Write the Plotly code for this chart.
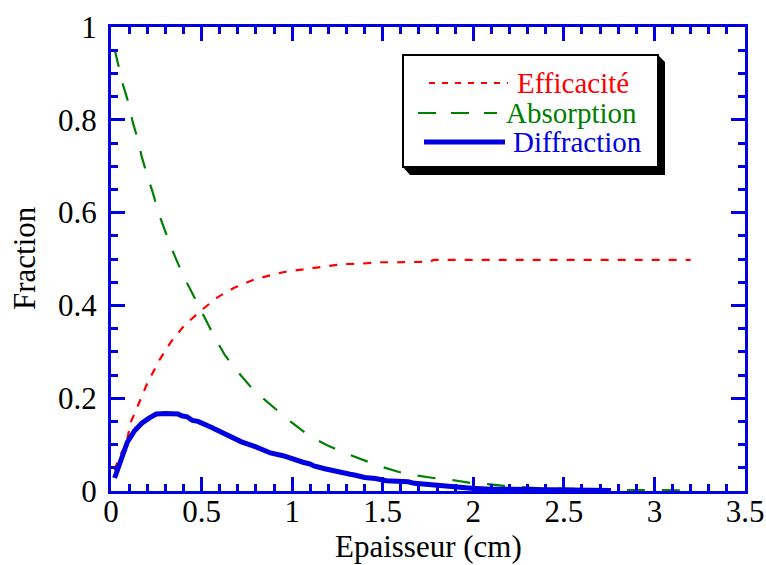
import plotly.graph_objects as go

# Efficacité (red, short dashes)
eff_x = [0.02, 0.044, 0.083, 0.11, 0.166, 0.20, 0.267, 0.33, 0.405, 0.497, 0.59, 0.68,
         0.80, 0.88, 0.955, 1.09, 1.18, 1.28, 1.38, 1.48, 1.58, 1.67, 1.76, 1.78, 1.86,
         2.5, 3.2]
eff_y = [0.045, 0.073, 0.10, 0.149, 0.20, 0.232, 0.282, 0.321, 0.357, 0.389, 0.418, 0.438,
         0.457, 0.465, 0.472, 0.479, 0.484, 0.489, 0.490, 0.493, 0.493, 0.494, 0.494, 0.498,
         0.498, 0.498, 0.498]

# Absorption (green, long dashes)
abs_x = [0.02, 0.044, 0.065, 0.10, 0.12, 0.15, 0.17, 0.20, 0.23, 0.26, 0.295, 0.33, 0.37,
         0.42, 0.47, 0.52, 0.57, 0.63, 0.70, 0.79, 0.89, 0.99, 1.09, 1.19, 1.29, 1.39,
         1.48, 1.59, 1.68, 1.78, 1.88, 1.99, 2.08, 2.17, 2.28, 2.39, 2.5, 2.6, 2.8, 3.0, 3.2]
abs_y = [0.952, 0.914, 0.877, 0.832, 0.795, 0.755, 0.72, 0.68, 0.644, 0.602, 0.562, 0.527,
         0.49, 0.448, 0.41, 0.37, 0.333, 0.292, 0.257, 0.216, 0.183, 0.150, 0.120, 0.099,
         0.082, 0.067, 0.054, 0.041, 0.034, 0.028, 0.024, 0.017, 0.015, 0.011, 0.008, 0.005,
         0.005, 0.004, 0.002, 0.002, 0.001]

# Diffraction (blue, thick solid, slightly stepped)
dif_x = [0.02, 0.05, 0.09, 0.13, 0.15, 0.17, 0.21, 0.25, 0.30, 0.37, 0.39, 0.42, 0.45,
         0.48, 0.55, 0.62, 0.70, 0.72, 0.80, 0.86, 0.88, 0.95, 1.00, 1.02, 1.06, 1.10,
         1.12, 1.18, 1.21, 1.26, 1.32, 1.35, 1.40, 1.46, 1.49, 1.52, 1.58, 1.64, 1.675,
         1.767, 1.86, 1.95, 1.99, 2.10, 2.19, 2.21, 2.5, 2.76]
dif_y = [0.028, 0.06, 0.105, 0.13, 0.140, 0.146, 0.157, 0.166, 0.167, 0.166, 0.162, 0.160,
         0.152, 0.150, 0.138, 0.124, 0.110, 0.106, 0.095, 0.085, 0.082, 0.076, 0.069, 0.065,
         0.062, 0.058, 0.054, 0.048, 0.045, 0.041, 0.036, 0.034, 0.029, 0.027, 0.024, 0.022,
         0.021, 0.020, 0.0165, 0.013, 0.010, 0.008, 0.0057, 0.004, 0.0036, 0.001, 0.001,
         0.001]

x_ticks = [0, 0.5, 1, 1.5, 2, 2.5, 3, 3.5]
x_labels = ["0", "0.5", "1", "1.5", "2", "2.5", "3", "3.5"]
y_ticks = [0, 0.2, 0.4, 0.6, 0.8, 1]
y_labels = ["0", "0.2", "0.4", "0.6", "0.8", "1"]

names = ["Efficacité", "Absorption", "Diffraction"]
colors = ["#ff0000", "#008000", "#0000e0"]

W, H = 766, 565
L, R, T, B = 111, 21, 27, 74
PW, PH = W - L - R, H - T - B
FONT = "Liberation Serif"
AXC = "#0000e0"


def px(x):
    return (x - L) / PW


def py(y):
    return (H - B - y) / PH


fig = go.Figure()
fig.add_trace(go.Scatter(x=eff_x, y=eff_y, mode="lines", name=names[0],
                         line=dict(color=colors[0], width=2.2, dash="8px,9px")))
fig.add_trace(go.Scatter(x=abs_x, y=abs_y, mode="lines", name=names[1],
                         line=dict(color=colors[1], width=2.2, dash="18px,17px")))
fig.add_trace(go.Scatter(x=dif_x, y=dif_y, mode="lines", name=names[2],
                         line=dict(color=colors[2], width=5)))

axis_common = dict(
    showline=True, linecolor=AXC, linewidth=3, mirror="allticks",
    ticks="inside", ticklen=14, tickwidth=2.5, tickcolor=AXC,
    showgrid=False, zeroline=False, automargin=False,
    tickfont=dict(family=FONT, size=31, color="black"),
)

fig.update_xaxes(range=[0, 3.5], tickvals=x_ticks, ticktext=x_labels,
                 minor=dict(dtick=0.1, ticks="inside", ticklen=7, tickwidth=2.5,
                            tickcolor=AXC, showgrid=False),
                 ticklabelstandoff=-9, **axis_common)
fig.update_yaxes(range=[0, 1], tickvals=y_ticks, ticktext=y_labels,
                 minor=dict(dtick=0.05, ticks="inside", ticklen=7, tickwidth=2.5,
                            tickcolor=AXC, showgrid=False),
                 ticklabelstandoff=5, **axis_common)

# Axis titles placed as text at fixed pixel positions
annotations = [
    dict(xref="paper", yref="paper", x=px(428), y=py(546), xanchor="center",
         yanchor="middle", showarrow=False, text="Epaisseur (cm)", borderpad=0,
         font=dict(family=FONT, size=31, color="black")),
    dict(xref="paper", yref="paper", x=px(24), y=py(258), xanchor="center",
         yanchor="middle", showarrow=False, text="Fraction", textangle=-90, borderpad=0,
         font=dict(family=FONT, size=31, color="black")),
]

# Legend box with drop shadow
bx0, by0, bx1, by1 = 403, 55, 658, 167
sh = 7
shadow_path = "M {} {} L {} {} L {} {} L {} {} L {} {} Z".format(
    px(bx0), py(by1), px(bx0 + sh), py(by1 + sh + 1), px(bx1 + sh), py(by1 + sh + 1),
    px(bx1 + sh), py(by0 + sh), px(bx1), py(by0))
shapes = [
    dict(type="path", xref="paper", yref="paper", path=shadow_path,
         fillcolor="black", line=dict(width=0), layer="above"),
    dict(type="rect", xref="paper", yref="paper", x0=px(bx0), x1=px(bx1),
         y0=py(by1), y1=py(by0), fillcolor="white", line=dict(color="black", width=2),
         layer="above"),
]
rows = [83, 113, 142]
sample_x = [(429, 508), (418, 497), (424, 505)]
text_x = [516, 505, 512]
widths = [2.2, 2.2, 5]
dashes = ["6px,7px", "18px,15px", "solid"]
for i in range(3):
    shapes.append(dict(type="line", xref="paper", yref="paper",
                       x0=px(sample_x[i][0]), x1=px(sample_x[i][1]),
                       y0=py(rows[i]), y1=py(rows[i]), layer="above",
                       line=dict(color=colors[i], width=widths[i], dash=dashes[i])))
    annotations.append(dict(xref="paper", yref="paper", x=px(text_x[i]), y=py(rows[i]),
                            xanchor="left", yanchor="middle", showarrow=False,
                            text=names[i], borderpad=0,
                            font=dict(family=FONT, size=29, color=colors[i])))

fig.update_layout(
    width=W, height=H, margin=dict(l=L, r=R, t=T, b=B),
    paper_bgcolor="white", plot_bgcolor="white",
    showlegend=False, shapes=shapes, annotations=annotations,
)

fig.write_html("out.html")
